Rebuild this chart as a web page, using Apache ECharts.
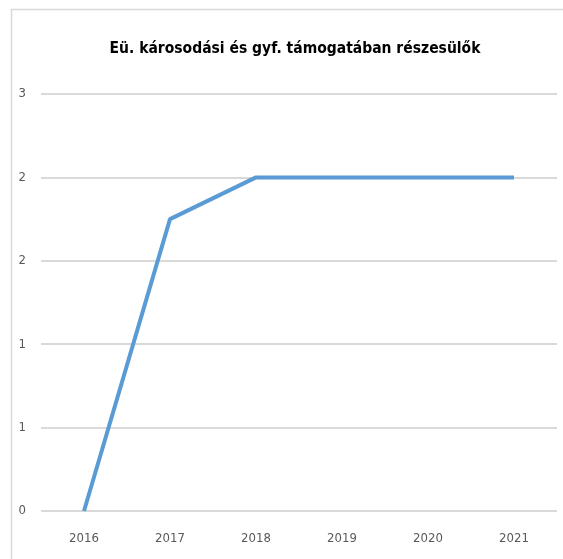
<!DOCTYPE html>
<html>
<head>
<meta charset="utf-8">
<script src="https://cdn.jsdelivr.net/npm/echarts@6/dist/echarts.min.js"></script>
<style>
  html, body { margin: 0; padding: 0; background: #fff; }
  #chart { width: 563px; height: 559px; }
</style>
</head>
<body>
<div id="chart"></div>
<script>
var years = ['2016', '2017', '2018', '2019', '2020', '2021'];
var values = [0, 1.75, 2, 2, 2, 2];
// Excel shows 0.5 steps rounded to whole numbers
var yTickLabels = ['0', '1', '1', '2', '2', '3'];

var narrowFont = '"DejaVu Sans Condensed", "Roboto Condensed", Roboto, sans-serif';

var myChart = echarts.init(document.getElementById('chart'));
var option = {
    animation: false,
    graphic: [{
        type: 'rect',
        shape: { x: 11.5, y: 9.5, width: 600, height: 600 },
        style: { fill: 'none', stroke: '#d9d9d9', lineWidth: 1.5 },
        silent: true
    }],
    title: {
        text: 'Eü. károsodási és gyf. támogatában részesülők',
        left: 290,
        textAlign: 'center',
        top: 36,
        textStyle: {
            fontFamily: narrowFont,
            fontWeight: 'bold',
            fontSize: 15.5,
            color: '#000'
        }
    },
    grid: { left: 41, right: 6, top: 94, bottom: 48 },
    xAxis: {
        type: 'category',
        data: years,
        boundaryGap: true,
        axisLine: { show: false },
        axisTick: { show: false },
        axisLabel: {
            color: '#595959',
            fontFamily: narrowFont,
            fontSize: 13,
            margin: 21
        }
    },
    yAxis: {
        type: 'value',
        min: 0,
        max: 2.5,
        interval: 0.5,
        axisLine: { show: false },
        axisTick: { show: false },
        splitLine: { lineStyle: { color: '#d9d9d9', width: 2 } },
        axisLabel: {
            color: '#595959',
            fontFamily: narrowFont,
            fontSize: 13,
            margin: 15,
            formatter: function (v) {
                return yTickLabels[Math.round(v / 0.5)];
            }
        }
    },
    series: [{
        type: 'line',
        data: values,
        symbol: 'none',
        lineStyle: { color: '#5b9bd5', width: 4 }
    }]
};
myChart.setOption(option);
</script>
</body>
</html>
